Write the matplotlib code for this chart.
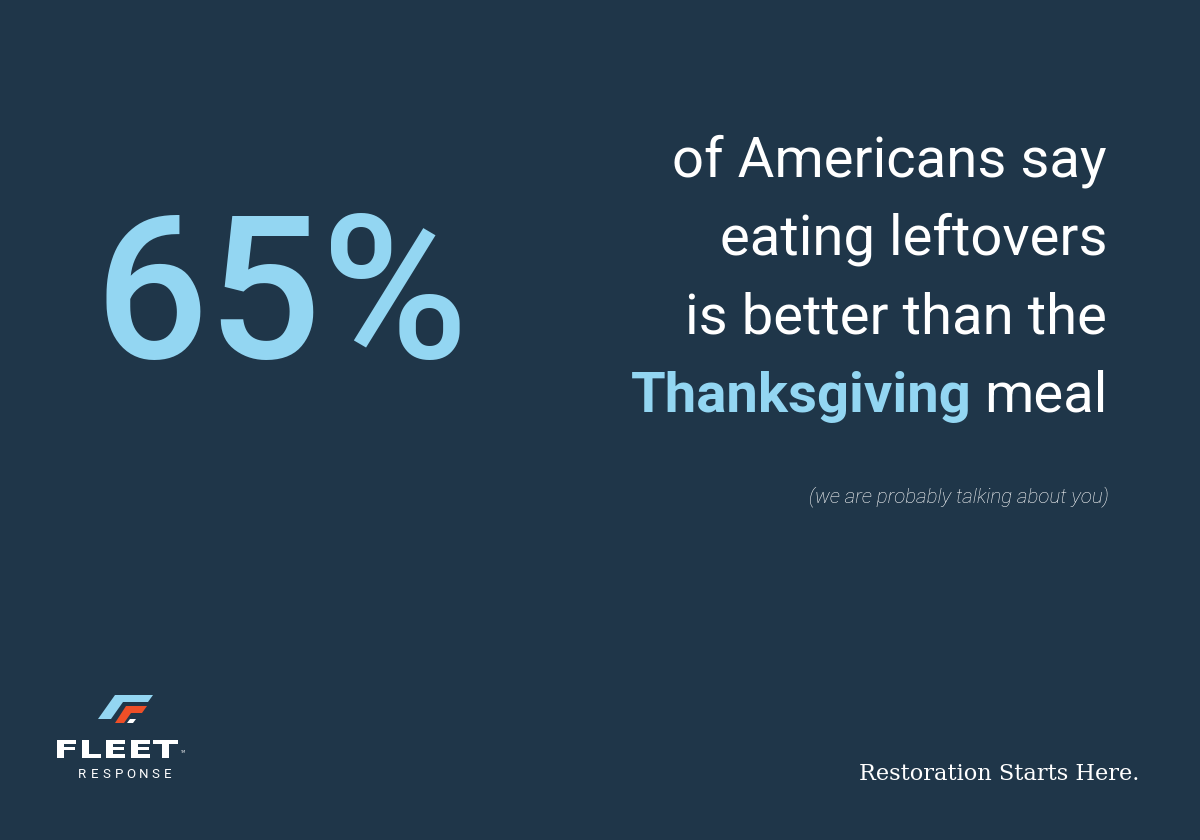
import matplotlib
matplotlib.use("Agg")
import matplotlib.pyplot as plt
from matplotlib.patches import Polygon, PathPatch
from matplotlib.textpath import TextPath
from matplotlib.font_manager import FontProperties
from matplotlib.transforms import Affine2D

# --------------------
# Content
# --------------------
stat_value = "65%"
statement_lines = ["of Americans say", "eating leftovers", "is better than the"]
highlight_word = "Thanksgiving"
last_word = "meal"
aside = "(we are probably talking about you)"
tagline = "Restoration Starts Here."
brand = "FLEET"
brand_sub = "RESPONSE"

BG = "#1f3649"
LIGHT_BLUE = "#93d6f2"
ORANGE = "#ee4f27"
WHITE = "#ffffff"

W, H = 1200, 840
fig = plt.figure(figsize=(W / 100, H / 100), dpi=100)
fig.patch.set_facecolor(BG)
ax = fig.add_axes([0, 0, 1, 1])
ax.set_xlim(0, W)
ax.set_ylim(H, 0)
ax.axis("off")
ax.set_facecolor(BG)


def fit_text(s, x0, x1, ytop, ybot, props, color):
    """Draw text as a path stretched into the pixel box."""
    tp = TextPath((0, 0), s, size=10, prop=props)
    ext = tp.get_extents()
    sx = (x1 - x0) / ext.width
    sy = (ybot - ytop) / ext.height
    tr = (Affine2D().translate(-ext.x0, -ext.y1).scale(sx, -sy)
          .translate(x0, ytop))
    ax.add_patch(PathPatch(tr.transform_path(tp), facecolor=color,
                           edgecolor="none"))


# big number
ax.text(95, 358, stat_value, fontsize=144, family="Roboto", fontweight="medium",
        color=LIGHT_BLUE, ha="left", va="baseline")

# statement, right aligned
right_x = 1107
fs = 40.5
baselines = [176, 255, 333, 412]
for line, y in zip(statement_lines, baselines):
    ax.text(right_x, y, line, fontsize=fs, family="Roboto", color=WHITE,
            ha="right", va="baseline")

renderer = fig.canvas.get_renderer()
t_meal = ax.text(right_x, baselines[3], last_word, fontsize=fs, family="Roboto",
                 color=WHITE, ha="right", va="baseline")
bb = t_meal.get_window_extent(renderer)
x0 = ax.transData.inverted().transform((bb.x0, 0))[0]
ax.text(x0 - 12, baselines[3], highlight_word, fontsize=fs, family="Roboto",
        fontweight="bold", color=LIGHT_BLUE, ha="right", va="baseline")

ax.text(1109, 502, aside, fontsize=14.8, family="Roboto", fontweight="light",
        style="italic", color=WHITE, ha="right", va="baseline")

ax.text(1139, 780, tagline, fontsize=16.2, family="DejaVu Serif", color=WHITE,
        ha="right", va="baseline")

# logo mark
ax.add_patch(Polygon([(98, 719), (115, 695), (153, 695), (148, 702),
                      (123, 702), (111, 719)], closed=True,
                     facecolor=LIGHT_BLUE, edgecolor="none"))
ax.add_patch(Polygon([(115, 723), (126, 706), (147, 706), (142, 713),
                      (131, 713), (124, 723)], closed=True,
                     facecolor=ORANGE, edgecolor="none"))
ax.add_patch(Polygon([(127, 723), (130, 719), (136, 719), (133, 723)],
                     closed=True, facecolor=WHITE, edgecolor="none"))

fit_text(brand, 57, 178, 740, 758,
         FontProperties(family="DejaVu Sans", weight="bold"), WHITE)
ax.text(180, 753, "TM", fontsize=2.5, color=WHITE, ha="left", va="baseline")
n = len(brand_sub)
for i, ch in enumerate(brand_sub):
    ax.text(82 + i * (86 / (n - 1)), 778, ch, fontsize=9.5, family="Roboto",
            color=WHITE, ha="center", va="baseline")

fig.savefig("out.png", dpi=100, facecolor=BG)
